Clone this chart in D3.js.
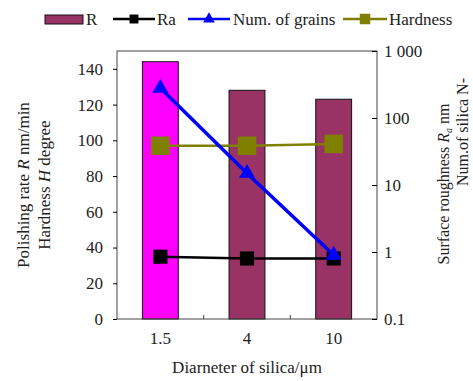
<!DOCTYPE html>
<html>
<head>
<meta charset="utf-8">
<script src="https://cdn.jsdelivr.net/npm/d3@7"></script>
<style>
  body { margin: 0; background: #fff; }
  svg text { font-family: "Liberation Serif", "Times New Roman", "DejaVu Serif", serif; fill: #222; }
</style>
</head>
<body>
<div id="chart"></div>
<script>
// data
var diameters = ["1.5", "4", "10"];
var polishRate = [144, 128, 123];      // R nm/min, left axis
var hardness = [97, 97, 98];           // H degree, left axis
var roughness = [0.85, 0.8, 0.8];      // Ra nm, right (log) axis
var grains = [280, 15, 0.9];           // num. of grains, right (log) axis
var leftTicks = [0, 20, 40, 60, 80, 100, 120, 140];
var rightTicks = [0.1, 1, 10, 100, 1000];

var W = 473, H = 381;
var m = {left: 117, right: 96, top: 51, bottom: 62};
var FONT = "\"Liberation Serif\", \"Times New Roman\", \"DejaVu Serif\", serif";

var svg = d3.select("#chart").append("svg")
	.attr("width", W)
	.attr("height", H);

var x = d3.scaleBand()
	.domain(diameters)
	.range([m.left, W - m.right])
	.paddingInner(0.586)
	.paddingOuter(0.293);

var yL = d3.scaleLinear().domain([0, 150]).range([H - m.bottom, m.top]);
var yR = d3.scaleLog().domain([0.1, 1000]).range([H - m.bottom, m.top]);

var cx = function(d, i){ return x(diameters[i]) + x.bandwidth() / 2; };

// bars
svg.append("g").selectAll("rect")
	.data(polishRate)
	.enter()
	.append("rect")
	.attr("x", function(d, i){ return x(diameters[i]); })
	.attr("y", function(d){ return yL(d); })
	.attr("width", x.bandwidth())
	.attr("height", function(d){ return yL(0) - yL(d); })
	.attr("fill", function(d, i){ return i == 0 ? "#ff00ff" : "#993366"; })
	.attr("stroke", "#111")
	.attr("stroke-width", 1);

// frame
svg.append("rect")
	.attr("x", m.left)
	.attr("y", m.top)
	.attr("width", W - m.right - m.left)
	.attr("height", H - m.bottom - m.top)
	.attr("fill", "none")
	.attr("stroke", "#444")
	.attr("stroke-width", 1);

// left axis
var gl = svg.append("g")
	.attr("transform", "translate(" + m.left + ",0)")
	.attr("font-family", FONT)
	.call(d3.axisLeft(yL).tickValues(leftTicks).tickSize(4).tickPadding(10));
gl.select(".domain").remove();
gl.selectAll("text").style("font-size", "17px");

// right axis (ticks inward)
var gr = svg.append("g")
	.attr("transform", "translate(" + (W - m.right) + ",0)")
	.attr("font-family", FONT)
	.call(d3.axisRight(yR).tickValues(rightTicks)
		.tickFormat(function(d){ return d == 1000 ? "1 000" : (d < 1 ? "0.1" : d3.format("d")(d)); })
		.tickSize(-5).tickPadding(7));
gr.select(".domain").remove();
gr.selectAll("text").style("font-size", "17px");

// bottom axis: labels under bars, small inward ticks between bands
var gb = svg.append("g")
	.attr("transform", "translate(0," + (H - m.bottom) + ")")
	.attr("font-family", FONT)
	.call(d3.axisBottom(x).tickSize(0).tickPadding(13));
gb.select(".domain").remove();
gb.selectAll("text").style("font-size", "17px");
svg.append("g").selectAll("line")
	.data(diameters.slice(1))
	.enter()
	.append("line")
	.attr("x1", function(d){ return x(d) - x.step() * x.paddingInner() / 2; })
	.attr("x2", function(d){ return x(d) - x.step() * x.paddingInner() / 2; })
	.attr("y1", H - m.bottom)
	.attr("y2", H - m.bottom - 4)
	.attr("stroke", "#444");

// lines
function drawSeries(vals, scale, color, width, marker, size){
	var line = d3.line()
		.x(function(d, i){ return cx(d, i); })
		.y(function(d){ return scale(d); });
	svg.append("path")
		.datum(vals)
		.attr("d", line)
		.attr("fill", "none")
		.attr("stroke", color)
		.attr("stroke-width", width);
	svg.append("g").selectAll("path")
		.data(vals)
		.enter()
		.append("path")
		.attr("d", d3.symbol().type(marker).size(size))
		.attr("transform", function(d, i){ return "translate(" + cx(d, i) + "," + scale(d) + ")"; })
		.attr("fill", color);
}
drawSeries(hardness, yL, "#808000", 2.5, d3.symbolSquare, 340);
drawSeries(roughness, yR, "#000", 2.5, d3.symbolSquare, 200);
drawSeries(grains, yR, "#0000ff", 3.5, d3.symbolTriangle, 110);

// axis titles
var lt = svg.append("text")
	.attr("transform", "translate(29,185) rotate(-90)")
	.attr("text-anchor", "middle")
	.style("font-size", "17px");
lt.append("tspan").text("Polishing rate ");
lt.append("tspan").style("font-style", "italic").text("R");
lt.append("tspan").text(" nm/min");
var lt2 = svg.append("text")
	.attr("transform", "translate(50,185) rotate(-90)")
	.attr("text-anchor", "middle")
	.style("font-size", "17px");
lt2.append("tspan").text("Hardness ");
lt2.append("tspan").style("font-style", "italic").text("H");
lt2.append("tspan").text(" degree");

var rt = svg.append("text")
	.attr("transform", "translate(449,184) rotate(-90)")
	.attr("text-anchor", "middle")
	.style("font-size", "16px");
rt.append("tspan").text("Surface roughness ");
rt.append("tspan").style("font-style", "italic").text("R");
rt.append("tspan").style("font-style", "italic").style("font-size", "10px").attr("dy", 3).text("a");
rt.append("tspan").attr("dy", -3).text(" nm");
svg.append("text")
	.attr("transform", "translate(468,78) rotate(-90)")
	.attr("text-anchor", "end")
	.style("font-size", "16px")
	.text("Num.of silica N-");

svg.append("text")
	.attr("x", (m.left + W - m.right) / 2)
	.attr("y", 373)
	.attr("text-anchor", "middle")
	.style("font-size", "17px")
	.text("Diarneter of silica/\u03bcm");

// legend
var LegendOptions = ["R", "Ra", "Num. of grains", "Hardness"];
var lg = svg.append("g").attr("class", "legend");
lg.append("rect").attr("x", 45).attr("y", 15).attr("width", 38).attr("height", 9)
	.attr("fill", "#993366").attr("stroke", "#111");
lg.append("text").attr("x", 86).attr("y", 25).style("font-size", "17px").text(LegendOptions[0]);
var legLines = [
	{x: 113, x2: 155, color: "#000", w: 2.5, type: d3.symbolSquare, size: 80, tx: 157, label: LegendOptions[1]},
	{x: 188, x2: 230, color: "#0000ff", w: 2.5, type: d3.symbolTriangle, size: 60, tx: 233, label: LegendOptions[2]},
	{x: 343, x2: 387, color: "#808000", w: 2.5, type: d3.symbolSquare, size: 110, tx: 389, label: LegendOptions[3]}
];
legLines.forEach(function(l){
	lg.append("line").attr("x1", l.x).attr("x2", l.x2).attr("y1", 19).attr("y2", 19)
		.attr("stroke", l.color).attr("stroke-width", l.w);
	lg.append("path").attr("d", d3.symbol().type(l.type).size(l.size))
		.attr("transform", "translate(" + ((l.x + l.x2) / 2) + ",19)")
		.attr("fill", l.color);
	lg.append("text").attr("x", l.tx).attr("y", 25).style("font-size", "17px").text(l.label);
});
</script>
</body>
</html>
